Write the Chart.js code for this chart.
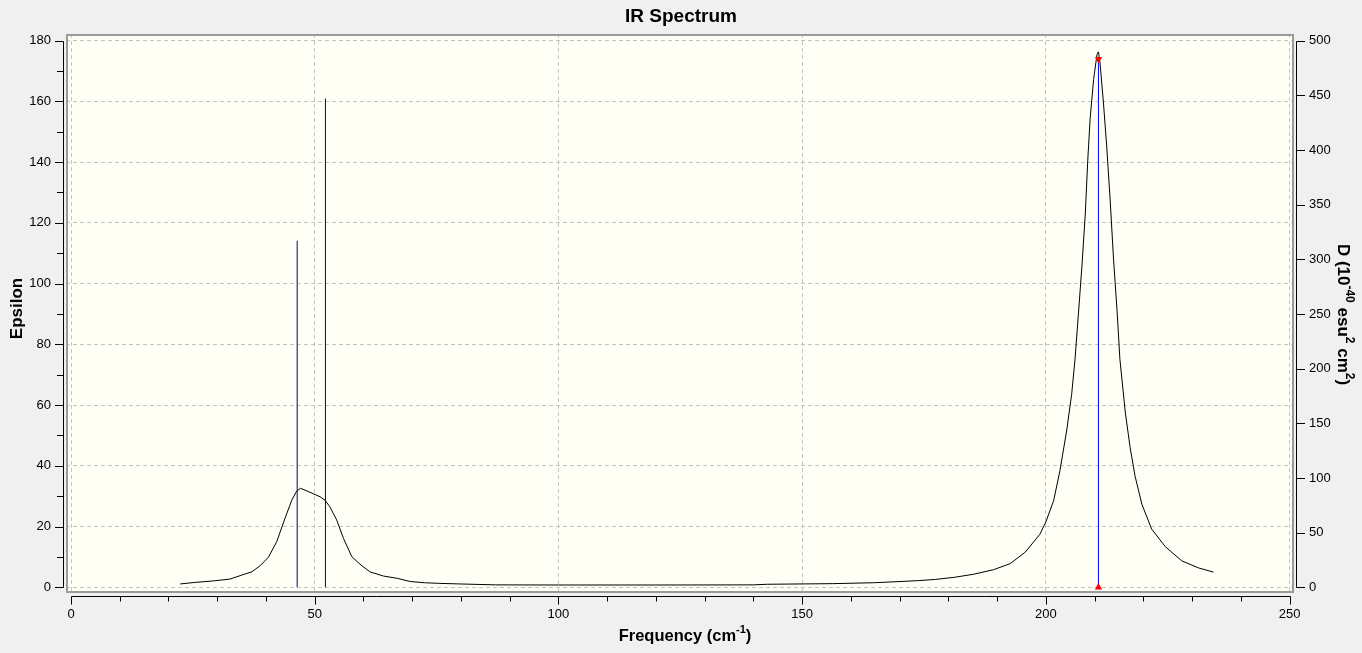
<!DOCTYPE html>
<html><head><meta charset="utf-8">
<script src="https://cdn.jsdelivr.net/npm/chart.js@4.4.1/dist/chart.umd.min.js"></script>
<style>html,body{margin:0;padding:0;background:#f0f0f0;} #wrap{width:1362px;height:653px;position:relative;}</style>
</head><body><div id="wrap"><canvas id="c"></canvas></div>
<script>
// Spectrum curve (Frequency cm-1, Epsilon)
const specX = [22.4,25.4,29.2,32.6,35.0,37.1,38.8,40.5,42.2,43.9,45.3,46.3,47.1,49.0,51.1,52.1,53.1,54.5,55.9,57.6,59.3,61.3,64.1,66.8,69.6,72.5,75.4,79.7,87.1,100,120,140,142.9,156.2,164.8,169.5,173.9,177.4,181.3,185.2,189.3,192.7,195.8,198.8,200.0,201.6,202.9,204.3,205.3,206.0,206.7,207.4,208.1,208.6,209.1,209.8,210.5,210.8,211.1,211.8,212.5,213.2,213.9,214.6,215.2,216.3,217.3,218.3,219.7,221.7,224.5,227.9,231.3,234.4];
const specY = [1.1,1.6,2.1,2.7,4.0,5.1,7.1,9.9,15.0,22.7,28.7,31.7,32.6,31.3,29.8,28.7,26.5,22.2,16.1,10.1,7.6,5.1,3.7,3.0,1.9,1.5,1.3,1.1,0.8,0.75,0.75,0.8,1.0,1.2,1.5,1.85,2.2,2.6,3.3,4.3,5.8,7.8,11.6,17.5,21.5,28.5,38.4,51.8,63.5,75.2,90.3,105.5,122.9,140.4,154.4,167.2,175.4,176.3,173,160,145,127.6,107.8,91.5,75.1,57.7,46,36.7,27.4,19.2,13.4,8.7,6.4,5.0];
// Stick spectrum (Frequency, D in 10^-40 esu^2 cm^2)
const stickX = [46.4, 52.2, 210.8];
const stickD = [317, 447, 483];
const selectedStick = 2;
// Tick values
const xTicks = [0,50,100,150,200,250];
const xMinor = [10,20,30,40,60,70,80,90,110,120,130,140,160,170,180,190,210,220,230,240];
const yTicks = [0,20,40,60,80,100,120,140,160,180];
const yMinor = [10,30,50,70,90,110,130,150,170];
const y2Ticks = [0,50,100,150,200,250,300,350,400,450,500];
const xRange = [-1.03, 250.92];
const yRange = [-1.88, 182.17];
const epsPerD = 180/500;
// Texts
const chartTitle = 'IR Spectrum';
const xTitle = [['Frequency (cm',0],['-1',1],[')',0]];
const yTitle = [['Epsilon',0]];
const y2Title = [['D (10',0],['-40',1],[' esu',0],['2',1],[' cm',0],['2',1],[')',0]];

const FONT = '"Liberation Sans", Arial, sans-serif';
Chart.defaults.color = '#000';
Chart.defaults.font.family = FONT;

const curveData = specX.map((x,i)=>({x:x, y:specY[i]}));
const stickData = [];
stickX.forEach((x,i)=>{ if(i!==selectedStick){ stickData.push({x:x,y:0},{x:x,y:stickD[i]},{x:x,y:null}); } });
const selData = [{x:stickX[selectedStick],y:0},{x:stickX[selectedStick],y:stickD[selectedStick]}];
const markData = [{x:stickX[selectedStick],y:stickD[selectedStick]},{x:stickX[selectedStick],y:0}];

function drawRich(ctx, segs, cx, cy, rot, size, supSize){
  const base = 'bold '+size+'px '+FONT, sup = 'bold '+supSize+'px '+FONT;
  let w = 0;
  segs.forEach(s=>{ctx.font = s[1]?sup:base; w += ctx.measureText(s[0]).width;});
  ctx.save();
  ctx.translate(cx, cy); ctx.rotate(rot);
  ctx.fillStyle='#000'; ctx.textBaseline='middle'; ctx.textAlign='left';
  let x = -w/2;
  segs.forEach(s=>{ctx.font = s[1]?sup:base; ctx.fillText(s[0], x, s[1]? -size*0.38 : 0); x += ctx.measureText(s[0]).width;});
  ctx.restore();
}

const bgPlugin = {
  id:'bg',
  beforeDraw(chart){
    const {ctx, chartArea:a} = chart;
    ctx.save();
    ctx.fillStyle='#f0f0f0'; ctx.fillRect(0,0,chart.width,chart.height);
    ctx.fillStyle='#fffff5'; ctx.fillRect(a.left,a.top,a.right-a.left,a.bottom-a.top);
    ctx.restore();
  },
  afterDraw(chart){
    const {ctx, chartArea:a, scales} = chart;
    const x=scales.x, y=scales.y, y2=scales.y2;
    ctx.save();
    ctx.strokeStyle='#9a9a9a'; ctx.lineWidth=2;
    ctx.strokeRect(a.left+1,a.top+1,a.right-a.left-2,a.bottom-a.top-2);
    ctx.strokeStyle='#000'; ctx.lineWidth=1;
    const seg=(x1,y1,x2,y2_)=>{ctx.beginPath();ctx.moveTo(x1,y1);ctx.lineTo(x2,y2_);ctx.stroke();};
    const r=v=>Math.round(v)+0.5;
    // left axis
    const lx = a.left-3+0.5;
    seg(lx, r(y.getPixelForValue(yTicks[0])), lx, r(y.getPixelForValue(yTicks[yTicks.length-1])));
    yTicks.forEach(v=>{const p=r(y.getPixelForValue(v)); seg(lx-8.5,p,lx,p);});
    yMinor.forEach(v=>{const p=r(y.getPixelForValue(v)); seg(lx-6.5,p,lx,p);});
    // right axis
    const rx = a.right+3-0.5;
    seg(rx, r(y2.getPixelForValue(y2Ticks[0])), rx, r(y2.getPixelForValue(y2Ticks[y2Ticks.length-1])));
    y2Ticks.forEach(v=>{const p=r(y2.getPixelForValue(v)); seg(rx,p,rx+8.5,p);});
    // bottom axis
    const by = a.bottom+3+0.5;
    seg(r(x.getPixelForValue(xTicks[0])), by, r(x.getPixelForValue(xTicks[xTicks.length-1])), by);
    xTicks.forEach(v=>{const p=r(x.getPixelForValue(v)); seg(p,by,p,by+8);});
    xMinor.forEach(v=>{const p=r(x.getPixelForValue(v)); seg(p,by,p,by+5);});
    ctx.restore();
    // axis titles
    const midY = (a.top+a.bottom)/2;
    drawRich(ctx, xTitle, (a.left+a.right)/2+5, 636, 0, 16.5, 11);
    drawRich(ctx, yTitle, 17, midY-5, -Math.PI/2, 17, 11);
    drawRich(ctx, y2Title, 1343, midY+1, Math.PI/2, 17, 12);
  }
};

new Chart(document.getElementById('c'), {
  type:'line',
  data:{datasets:[
    {data:curveData, borderColor:'#000', borderWidth:1, pointRadius:0, tension:0, yAxisID:'y', order:3},
    {data:stickData, borderColor:'#00008c', borderWidth:1, pointRadius:0, spanGaps:false, yAxisID:'y2', order:2},
    {data:selData, borderColor:'#0000ff', borderWidth:1, pointRadius:0, yAxisID:'y2', order:1},
    {data:markData, showLine:false, pointStyle:'triangle', pointRotation:[180,0], pointRadius:4.2, pointBackgroundColor:'#ff0000', pointBorderColor:'#ff0000', pointBorderWidth:0, yAxisID:'y2', order:0}
  ]},
  options:{
    responsive:true, maintainAspectRatio:false, animation:false,
    layout:{padding:0, autoPadding:false},
    plugins:{
      legend:{display:false}, tooltip:{enabled:false},
      title:{display:true, text:chartTitle, font:{family:FONT, size:19, weight:'bold'}, lineHeight:1.2, padding:{top:5.6,bottom:5.6}, color:'#000'}
    },
    scales:{
      x:{type:'linear', position:'bottom', min:xRange[0], max:xRange[1],
        afterFit:s=>{s.height=60;},
        afterBuildTicks:s=>{s.ticks=xTicks.map(v=>({value:v}));},
        grid:{color:'#c4c4c4', lineWidth:1, drawTicks:false},
        border:{display:false, dash:[4,3]},
        ticks:{padding:14, font:{size:13, family:FONT}, maxRotation:0, autoSkip:false},
        title:{display:false}
      },
      y:{type:'linear', position:'left', min:yRange[0], max:yRange[1],
        afterFit:s=>{s.width=66;},
        afterBuildTicks:s=>{s.ticks=yTicks.map(v=>({value:v}));},
        grid:{color:'#c4c4c4', lineWidth:1, drawTicks:false},
        border:{display:false, dash:[4,3]},
        ticks:{padding:15, font:{size:13, family:FONT}, autoSkip:false},
        title:{display:false}
      },
      y2:{type:'linear', position:'right', min:yRange[0]/epsPerD, max:yRange[1]/epsPerD,
        afterFit:s=>{s.width=68;},
        afterBuildTicks:s=>{s.ticks=y2Ticks.map(v=>({value:v}));},
        grid:{display:false, drawTicks:false},
        border:{display:false},
        ticks:{padding:15, font:{size:13, family:FONT}, autoSkip:false},
        title:{display:false}
      }
    }
  },
  plugins:[bgPlugin]
});
</script>
</body></html>
